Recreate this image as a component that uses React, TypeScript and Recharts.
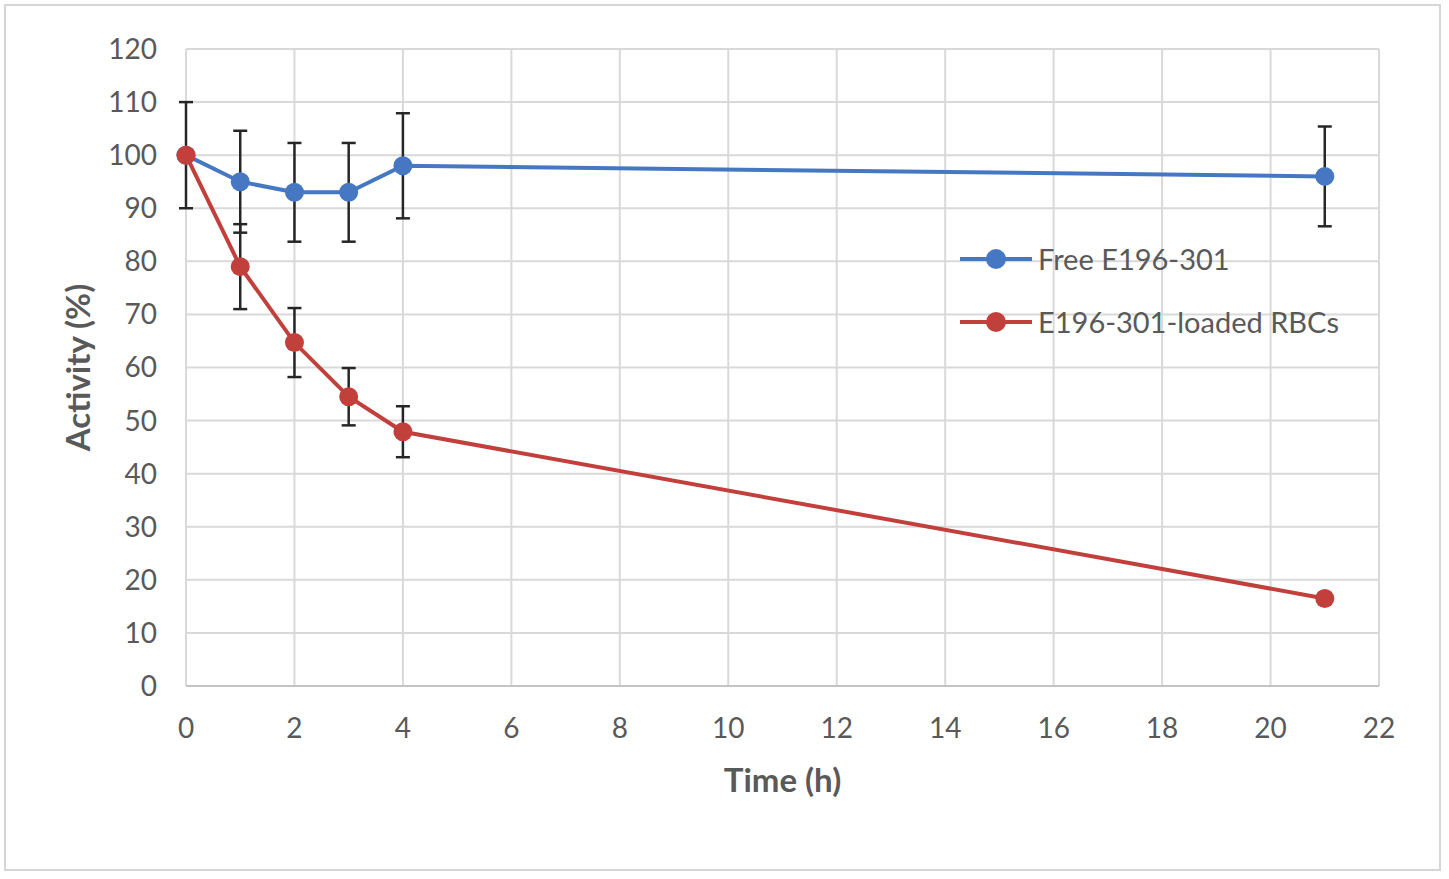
import React from "react";
import {
  CartesianGrid,
  ErrorBar,
  Legend,
  Line,
  LineChart,
  XAxis,
  YAxis,
} from "recharts";

// values
const hours = [0, 1, 2, 3, 4, 21];
const freeActivity = [100, 95, 93, 93, 98, 96];
const freeError = [10, 9.6, 9.3, 9.3, 9.9, 9.4];
const rbcActivity = [100, 79, 64.7, 54.5, 47.9, 16.5];
const rbcError = [0, 8, 6.5, 5.4, 4.8, 1];

const xTicks = [0, 2, 4, 6, 8, 10, 12, 14, 16, 18, 20, 22];
const yTicks = [0, 10, 20, 30, 40, 50, 60, 70, 80, 90, 100, 110, 120];

const seriesNames = ["Free E196-301", "E196-301-loaded RBCs"];

const data = hours.map((t, i) => ({
  t,
  free: freeActivity[i],
  freeErr: freeError[i],
  rbc: rbcActivity[i],
  rbcErr: rbcError[i],
}));

const BLUE = "#4677C2";
const RED = "#C2403C";
const FONT = "Lato, 'Open Sans', sans-serif";
const TEXT = "#595959";

const legendItems = [
  { name: seriesNames[0], color: BLUE },
  { name: seriesNames[1], color: RED },
];

function LegendBox() {
  return (
    <div style={{ fontFamily: FONT }}>
      {legendItems.map((p) => (
        <div
          key={p.name}
          style={{ display: "flex", alignItems: "center", height: 63 }}
        >
          <svg width={80} height={24}>
            <line x1={2} y1={12} x2={74} y2={12} stroke={p.color} strokeWidth={4} />
            <circle cx={38} cy={12} r={10} fill={p.color} />
          </svg>
          <span style={{ fontSize: 29, color: TEXT }}>{p.name}</span>
        </div>
      ))}
    </div>
  );
}

export default function App() {
  return (
    <div
      style={{
        position: "absolute",
        left: 0,
        top: 0,
        width: 1449,
        height: 879,
        background: "#fff",
      }}
    >
      <div
        style={{
          position: "absolute",
          left: 4,
          top: 4,
          width: 1437,
          height: 867,
          border: "2px solid #d6d6d6",
          boxSizing: "border-box",
        }}
      />
      <LineChart
        width={1449}
        height={879}
        data={data}
        margin={{ top: 49, right: 70, left: 86, bottom: 133 }}
        style={{ position: "absolute", left: 0, top: 0 }}
      >
        <CartesianGrid stroke="#d9d9d9" strokeWidth={2} />
        <XAxis
          dataKey="t"
          type="number"
          domain={[0, 22]}
          ticks={xTicks}
          height={60}
          tickLine={false}
          axisLine={{ stroke: "#c4c4c4", strokeWidth: 2 }}
          tickSize={6}
          tickMargin={26}
          tick={{ fill: TEXT, fontSize: 28, fontFamily: FONT }}
          label={{
            content: ({ viewBox }: any) => (
              <text
                x={viewBox.x + viewBox.width / 2}
                y={792}
                textAnchor="middle"
                fill={TEXT}
                fontFamily={FONT}
                fontWeight="bold"
                fontSize={33}
              >
                Time (h)
              </text>
            ),
          }}
        />
        <YAxis
          type="number"
          domain={[0, 120]}
          ticks={yTicks}
          width={100}
          tickLine={false}
          axisLine={false}
          tickSize={6}
          tickMargin={23}
          tick={{ fill: TEXT, fontSize: 28, fontFamily: FONT }}
          label={{
            content: ({ viewBox }: any) => {
              const cy = viewBox.y + viewBox.height / 2;
              return (
                <text
                  x={77}
                  y={cy}
                  transform={`rotate(-90, 77, ${cy})`}
                  textAnchor="middle"
                  dominantBaseline="central"
                  fill={TEXT}
                  fontFamily={FONT}
                  fontWeight="bold"
                  fontSize={33}
                >
                  Activity (%)
                </text>
              );
            },
          }}
        />
        <Legend
          layout="vertical"
          verticalAlign="middle"
          align="center"
          content={<LegendBox />}
          wrapperStyle={{ position: "absolute", left: 958, top: 227, width: 440 }}
        />
        <Line
          name={seriesNames[0]}
          dataKey="free"
          stroke={BLUE}
          strokeWidth={4}
          dot={{ r: 9.5, fill: BLUE, stroke: BLUE, strokeWidth: 0 }}
          activeDot={false}
          isAnimationActive={false}
        >
          <ErrorBar dataKey="freeErr" direction="y" width={7} stroke="#262626" strokeWidth={2.5} />
        </Line>
        <Line
          name={seriesNames[1]}
          dataKey="rbc"
          stroke={RED}
          strokeWidth={4}
          dot={{ r: 9.5, fill: RED, stroke: RED, strokeWidth: 0 }}
          activeDot={false}
          isAnimationActive={false}
        >
          <ErrorBar dataKey="rbcErr" direction="y" width={7} stroke="#262626" strokeWidth={2.5} />
        </Line>
      </LineChart>
    </div>
  );
}
